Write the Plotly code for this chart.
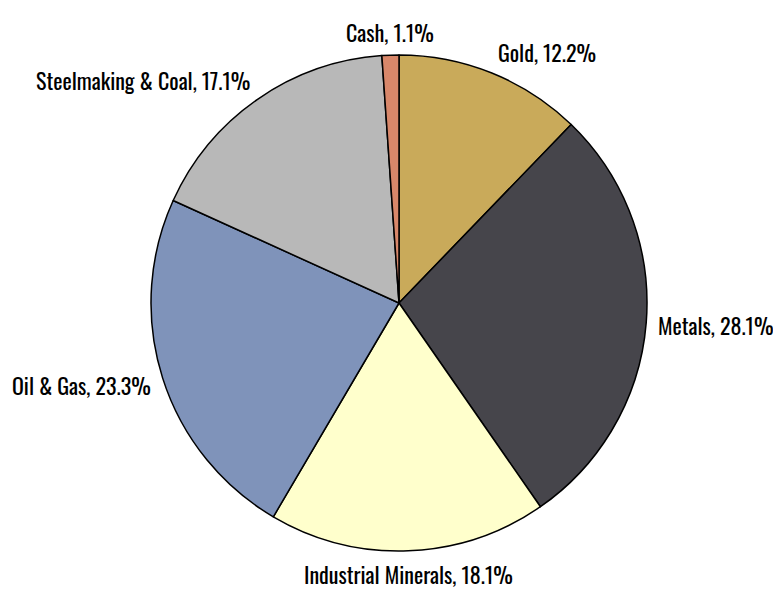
import math
import plotly.graph_objects as go

labels = ["Gold", "Metals", "Industrial Minerals", "Oil & Gas", "Steelmaking & Coal", "Cash"]
values = [12.2, 28.1, 18.1, 23.3, 17.1, 1.1]
colors = ["#C9AA5A", "#46454B", "#FFFFCC", "#7F93BA", "#B8B8B8", "#D8876A"]

# page body has an 8px margin; keep the figure inside the window
OFF = 8
W, H = 781 - OFF, 595 - 2 * OFF
cx, cy, r = 399 - OFF, 303 - OFF, 248   # pie centre / radius in figure pixels
label_rx, label_ry = 258, 271
FONT = "Oswald, Antonio, Barlow Condensed, Liberation Sans Narrow, DejaVu Sans Condensed, sans-serif"

fig = go.Figure(go.Pie(
    labels=labels,
    values=values,
    sort=False,
    direction="clockwise",
    rotation=0,
    marker=dict(colors=colors, line=dict(color="black", width=1.5)),
    textinfo="none",
    showlegend=False,
    hoverinfo="label+value",
    domain=dict(x=[(cx - r) / W, (cx + r) / W], y=[1 - (cy + r) / H, 1 - (cy - r) / H]),
))

total = sum(values)
cum = 0.0
for lab, v in zip(labels, values):
    mid = (cum + v / 2) / total * 2 * math.pi
    cum += v
    s, c = math.sin(mid), math.cos(mid)
    px = cx + label_rx * s
    py = cy - label_ry * c
    xa = "left" if s > 0.3 else ("right" if s < -0.3 else "center")
    fig.add_annotation(
        x=px / W, y=1 - py / H, xref="paper", yref="paper",
        text=f"{lab}, {v:.1f}%", showarrow=False,
        xanchor=xa, yanchor="middle",
        font=dict(family=FONT, size=22, color="black"),
    )

fig.update_layout(
    width=W, height=H,
    margin=dict(l=0, r=0, t=0, b=0),
    paper_bgcolor="white",
    plot_bgcolor="white",
)

fig.write_html("out.html")
